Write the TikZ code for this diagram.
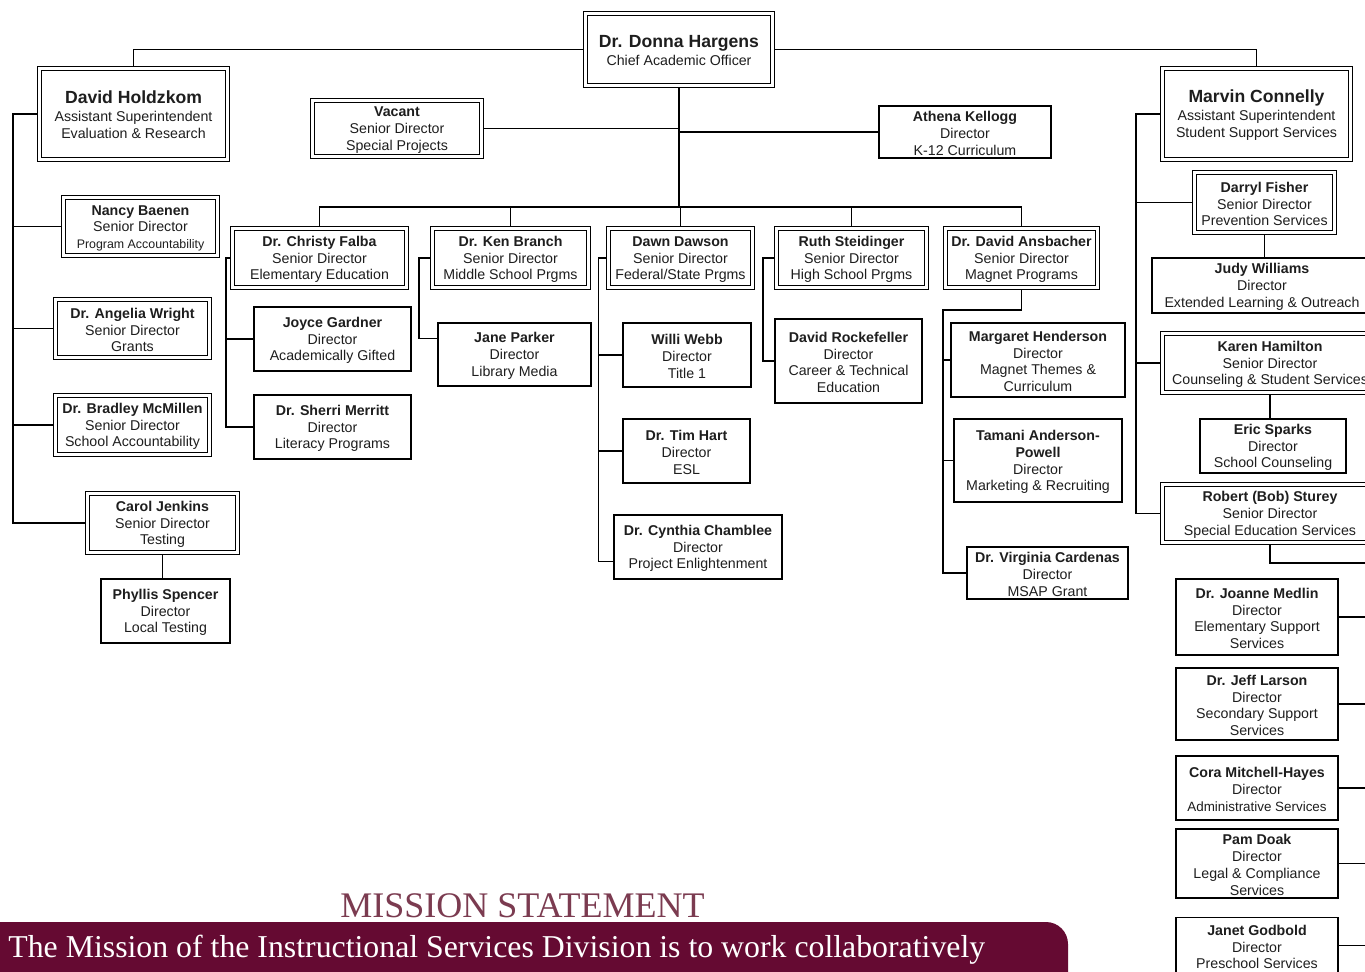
\documentclass[tikz,border=0pt]{standalone}
\usepackage{fontspec}
\setmainfont{Liberation Sans}
\newfontfamily\missionfont{Liberation Serif}
\usetikzlibrary{calc}

\definecolor{textc}{HTML}{1E1E1E}
\definecolor{bandred}{HTML}{650A32}
\definecolor{titlered}{HTML}{7B3B50}

\newcommand\bodyfont{\fontsize{7.1}{8.4}\selectfont}
\newcommand\bigname{\bfseries\fontsize{8.8}{9}\selectfont\rule{0pt}{7.3pt}}
\newcommand\smallfont{\fontsize{6.2}{8.4}\selectfont}
\newcommand\smallerfont{\fontsize{6.7}{8.4}\selectfont}
\newcommand\tstrut{\rule{0pt}{6.6pt}}

% single-ruled box: name, x0, y0, x1, y1, text  (pixel-like units)
\newcommand\orgS[6]{\node[sbox, minimum width={(#4-#2)*0.5pt}, minimum height={(#5-#3)*0.5pt}] (#1) at ({(#2+#4)/2},{(#3+#5)/2}) {\tstrut#6};}
% double-ruled box, same arguments (outer edge given)
\newcommand\orgD[6]{\node[dbox, minimum width={(#4-#2-5)*0.5pt}, minimum height={(#5-#3-5)*0.5pt}] (#1) at ({(#2+#4)/2},{(#3+#5)/2}) {\tstrut#6};}

\tikzset{
  sbox/.style={draw=black, line width=0.52pt, fill=white, align=center, inner sep=0pt, font=\bodyfont, text=textc},
  dbox/.style={sbox, double=white, double distance=1.55pt, line width=0.48pt, outer sep=1.25pt},
  link/.style={draw=black, line width=0.52pt},
}

\begin{document}
\begin{tikzpicture}[x=0.5pt, y=-0.5pt]
\clip (0,0) rectangle (1365,971);
\fill[white] (0,0) rectangle (1365,971);

% ---- top level
\orgD{donna}{583}{11}{775}{88}{{\bigname Dr. Donna Hargens}\\[0.6pt]Chief Academic Officer}
\orgD{holdzkom}{37}{66}{230}{162}{{\bigname David Holdzkom}\\[0.6pt]Assistant Superintendent\\Evaluation \& Research}
\orgD{connelly}{1160}{66}{1353}{162}{{\bigname Marvin Connelly}\\[0.6pt]Assistant Superintendent\\Student Support Services}
\orgD{vacant}{310}{98}{484}{159}{\textbf{Vacant}\\Senior Director\\Special Projects}
\orgS{athena}{879}{106}{1051}{158}{\textbf{Athena Kellogg}\\Director\\K-12 Curriculum}

% ---- evaluation & research
\orgD{nancy}{61}{195}{220}{258}{\textbf{Nancy Baenen}\\Senior Director\\{\smallfont Program Accountability}}
\orgD{wright}{53}{297}{212}{360}{\textbf{Dr. Angelia Wright}\\Senior Director\\Grants}
\orgD{mcmillen}{53}{393}{212}{457}{\textbf{Dr. Bradley McMillen}\\Senior Director\\School Accountability}
\orgD{jenkins}{85}{491}{240}{555}{\textbf{Carol Jenkins}\\Senior Director\\Testing}
\orgS{phyllis}{101}{579}{230}{643}{\textbf{Phyllis Spencer}\\Director\\Local Testing}

% ---- senior directors under the chief academic officer
\orgD{falba}{230}{226}{409}{290}{\textbf{Dr. Christy Falba}\\Senior Director\\Elementary Education}
\orgD{branch}{430}{226}{591}{290}{\textbf{Dr. Ken Branch}\\Senior Director\\Middle School Prgms}
\orgD{dawson}{606}{226}{755}{290}{\textbf{Dawn Dawson}\\Senior Director\\Federal/State Prgms}
\orgD{steid}{774}{226}{929}{290}{\textbf{Ruth Steidinger}\\Senior Director\\High School Prgms}
\orgD{ansb}{943}{226}{1100}{290}{\textbf{Dr. David Ansbacher}\\Senior Director\\Magnet Programs}

\orgS{joyce}{254}{307}{411}{371}{\textbf{Joyce Gardner}\\Director\\Academically Gifted}
\orgS{merritt}{254}{395}{411}{459}{\textbf{Dr. Sherri Merritt}\\Director\\Literacy Programs}
\orgS{parker}{438}{323}{591}{386}{\textbf{Jane Parker}\\Director\\Library Media}
\orgS{webb}{623}{323}{751}{387}{\textbf{Willi Webb}\\Director\\Title 1}
\orgS{hart}{623}{419}{750}{483}{\textbf{Dr. Tim Hart}\\Director\\ESL}
\orgS{chamblee}{614}{515}{782}{579}{\textbf{Dr. Cynthia Chamblee}\\Director\\Project Enlightenment}
\orgS{rockef}{775}{319}{922}{403}{\textbf{David Rockefeller}\\Director\\Career \& Technical\\Education}
\orgS{henderson}{951}{323}{1125}{397}{\textbf{Margaret Henderson}\\Director\\Magnet Themes \&\\Curriculum}
\orgS{tamani}{954}{419}{1122}{502}{\textbf{Tamani Anderson-}\\\textbf{Powell}\\Director\\Marketing \& Recruiting}
\orgS{cardenas}{967}{547}{1128}{599}{\textbf{Dr. Virginia Cardenas}\\Director\\MSAP Grant}

% ---- student support services
\orgD{fisher}{1192}{170}{1337}{235}{\textbf{Darryl Fisher}\\Senior Director\\Prevention Services}
\orgS{judy}{1152}{258}{1372}{313}{\textbf{Judy Williams}\\Director\\Extended Learning \& Outreach}
\orgD{hamilton}{1160}{331}{1380}{395}{\textbf{Karen Hamilton}\\Senior Director\\Counseling \& Student Services}
\orgS{sparks}{1200}{419}{1346}{473}{\textbf{Eric Sparks}\\Director\\School Counseling}
\orgD{sturey}{1160}{482}{1380}{545}{\textbf{Robert (Bob) Sturey}\\Senior Director\\Special Education Services}
\orgS{medlin}{1176}{579}{1338}{655}{\textbf{Dr. Joanne Medlin}\\Director\\Elementary Support\\Services}
\orgS{larson}{1176}{668}{1338}{740}{\textbf{Dr. Jeff Larson}\\Director\\Secondary Support\\Services}
\orgS{cora}{1176}{756}{1338}{820}{\textbf{Cora Mitchell-Hayes}\\Director\\{\smallerfont Administrative Services}}
\orgS{doak}{1176}{829}{1338}{898}{\textbf{Pam Doak}\\Director\\Legal \& Compliance\\Services}
\orgS{godbold}{1176}{917}{1338}{974}{\textbf{Janet Godbold}\\Director\\Preschool Services}

% ---- connectors: top level
\coordinate (bar) at (679,207);
\coordinate (thk) at (679,104);
\draw[link] (donna.west) -| (holdzkom.north);
\draw[link] (donna.east) -| (connelly.north);
\draw[link] (donna.south) -- (bar);
\draw[draw=black, line width=0.85pt] (thk) -- (bar);
\draw[link] (vacant.east) -- (vacant.east -| bar);
\draw[link] (athena.west) -- (athena.west -| bar);
\draw[link] (falba.north) -- (falba.north |- bar) -- (ansb.north |- bar) -- (ansb.north);
\foreach \n in {branch,dawson,steid} \draw[link] (\n.north) -- (\n.north |- bar);

% ---- evaluation & research spine
\coordinate (lsp) at (13,115);
\draw[link] (holdzkom.west) -- (holdzkom.west -| lsp) -- (jenkins.west -| lsp) -- (jenkins.west);
\foreach \n in {nancy,wright,mcmillen} \draw[link] (\n.west) -- (\n.west -| lsp);
\draw[link] (jenkins.south) -- (jenkins.south |- phyllis.north);

% ---- elementary
\coordinate (fsp) at (226,258);
\draw[link] (falba.west) -- (falba.west -| fsp) -- (merritt.west -| fsp) -- (merritt.west);
\draw[link] (joyce.west) -- (joyce.west -| fsp);

% ---- middle school
\coordinate (bsp) at (419,258);
\coordinate (parkerin) at ($(parker.north west)!0.25!(parker.south west)$);
\draw[link] (branch.west) -- (branch.west -| bsp) -- (parkerin -| bsp) -- (parkerin);

% ---- federal / state
\coordinate (dsp) at (598.5,258);
\coordinate (chambin) at ($(chamblee.north west)!0.72!(chamblee.south west)$);
\draw[link] (dawson.west) -- (dawson.west -| dsp) -- (chambin -| dsp) -- (chambin);
\foreach \n in {webb,hart} \draw[link] (\n.west) -- (\n.west -| dsp);

% ---- high school
\coordinate (rsp) at (763,258);
\draw[link] (steid.west) -- (steid.west -| rsp) -- (rockef.west -| rsp) -- (rockef.west);

% ---- magnet
\coordinate (asp) at (943,310);
\draw[link] (ansb.south) -- (ansb.south |- asp) -- (asp) -- (cardenas.west -| asp) -- (cardenas.west);
\foreach \n in {henderson,tamani} \draw[link] (\n.west) -- (\n.west -| asp);

% ---- student support spine
\coordinate (msp) at (1136,115);
\draw[link] (connelly.west) -- (connelly.west -| msp) -- (sturey.west -| msp) -- (sturey.west);
\foreach \n in {fisher,hamilton} \draw[link] (\n.west) -- (\n.west -| msp);
\draw[link] (fisher.south) -- (fisher.south |- judy.north);
\draw[link] (hamilton.south) -- (hamilton.south |- sparks.north);
\coordinate (stureyout) at (1372,563);
\draw[link] (sturey.south) -- (sturey.south |- stureyout) -- (stureyout);
\coordinate (redge) at (1372,0);
\foreach \n in {medlin,larson,cora,doak,godbold} \draw[link] (\n.east) -- (\n.east -| redge);

% ---- mission statement band
\fill[bandred] (0,922) -- (1046,922) arc[start angle=-90, end angle=0, radius=22] -- (1068,980) -- (0,980) -- cycle;
\node[anchor=base, inner sep=0pt, text=titlered, font=\missionfont\fontsize{18}{20}\selectfont] (mtitle) at (522.5,917) {MISSION STATEMENT};
\node[anchor=base west, inner sep=0pt, text=white, font=\missionfont\fontsize{15.9}{18}\selectfont] (mtext) at (8,957) {The Mission of the Instructional Services Division is to work collaboratively};
\end{tikzpicture}
\end{document}
